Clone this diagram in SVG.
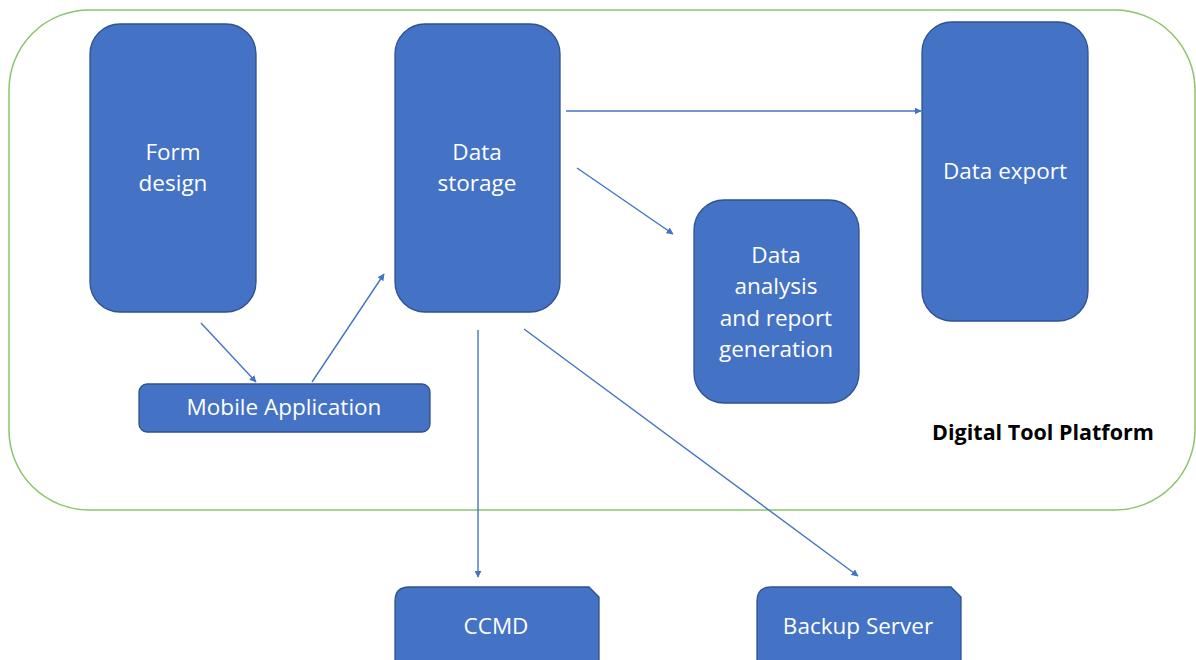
<svg xmlns="http://www.w3.org/2000/svg" width="1196" height="660" viewBox="0 0 1196 660">
  <style>
    .box { fill: #4472C4; stroke: #2F528F; stroke-width: 1.3; }
    .lbl { fill: #FFFFFF; font-family: "Open Sans", "Liberation Sans", sans-serif; font-size: 22.5px; text-anchor: middle; }
    .edge { stroke: #4472C4; stroke-width: 1.4; fill: none; marker-end: url(#arrow); }
    .title { fill: #000000; font-family: "Open Sans", "Liberation Sans", sans-serif; font-size: 21.5px; font-weight: bold; }
  </style>
  <defs>
    <marker id="arrow" viewBox="0 0 10 10" refX="9" refY="5" markerWidth="7" markerHeight="7" markerUnits="userSpaceOnUse" orient="auto">
      <path d="M0,0 L10,5 L0,10 z" fill="#4472C4"/>
    </marker>
  </defs>
  <rect width="1196" height="660" fill="#FFFFFF"/>

  <!-- platform boundary -->
  <g id="platform">
    <rect x="9" y="10" width="1186" height="500" rx="80" ry="80" fill="none" stroke="#8CC36B" stroke-width="1.5"/>
    <text class="title" x="1043" y="440" text-anchor="middle">Digital Tool Platform</text>
  </g>

  <g id="form-design">
    <rect class="box" x="90" y="24" width="166" height="288" rx="30"/>
    <text class="lbl" x="173" y="160">Form</text>
    <text class="lbl" x="173" y="191">design</text>
  </g>

  <g id="data-storage">
    <rect class="box" x="395" y="24" width="165" height="288" rx="30"/>
    <text class="lbl" x="477" y="160">Data</text>
    <text class="lbl" x="477" y="191">storage</text>
  </g>

  <g id="data-export">
    <rect class="box" x="922" y="22" width="166" height="299" rx="30"/>
    <text class="lbl" x="1005" y="179">Data export</text>
  </g>

  <g id="data-analysis">
    <rect class="box" x="694" y="200" width="165" height="203" rx="30"/>
    <text class="lbl" x="776" y="263">Data</text>
    <text class="lbl" x="776" y="294">analysis</text>
    <text class="lbl" x="776" y="326">and report</text>
    <text class="lbl" x="776" y="357">generation</text>
  </g>

  <g id="mobile-app">
    <rect class="box" x="139" y="384" width="291" height="48" rx="8"/>
    <text class="lbl" x="284" y="415">Mobile Application</text>
  </g>

  <g id="ccmd">
    <path class="box" d="M395,662 L395,601 Q395,587 409,587 L589,587 L599,597 L599,662"/>
    <text class="lbl" x="496" y="634">CCMD</text>
  </g>

  <g id="backup-server">
    <path class="box" d="M757,662 L757,601 Q757,587 771,587 L951,587 L961,597 L961,662"/>
    <text class="lbl" x="858" y="634">Backup Server</text>
  </g>

  <g id="connectors">
    <line class="edge" x1="201" y1="323" x2="256" y2="382"/>
    <line class="edge" x1="312" y1="382" x2="384" y2="274"/>
    <line class="edge" x1="566" y1="111" x2="921" y2="111"/>
    <line class="edge" x1="577" y1="168" x2="673" y2="234"/>
    <line class="edge" x1="478" y1="330" x2="478" y2="577"/>
    <line class="edge" x1="524" y1="329" x2="858" y2="576"/>
  </g>
</svg>
